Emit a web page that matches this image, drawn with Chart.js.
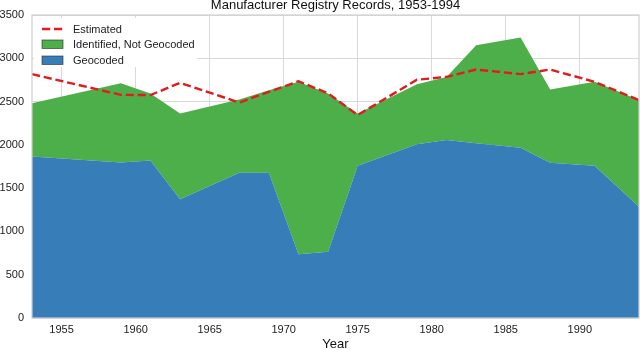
<!DOCTYPE html>
<html><head><meta charset="utf-8">
<script src="https://cdn.jsdelivr.net/npm/chart.js@4.4.1/dist/chart.umd.min.js"></script>
<style>html,body{margin:0;padding:0;background:#fff;}#wrap{width:640px;height:350px;position:relative;}</style>
</head><body><div id="wrap"><canvas id="c"></canvas></div>
<script>
const years = [1953, 1959, 1961, 1963, 1967, 1969, 1971, 1973, 1975, 1979, 1981, 1983, 1986, 1988, 1991, 1994];
const geocoded = [1866, 1797, 1820, 1371, 1679, 1679, 735, 766, 1759, 2006, 2055, 2020, 1967, 1794, 1759, 1285];
const notGeocoded = [614, 916, 773, 991, 846, 951, 1993, 1827, 603, 694, 730, 1132, 1273, 845, 969, 1232];
const estimated = [2817, 2578, 2575, 2717, 2489, 2612, 2735, 2595, 2344, 2752, 2785, 2870, 2817, 2870, 2728, 2517];
const xTickValues = [1955, 1960, 1965, 1970, 1975, 1980, 1985, 1990];
const yTickValues = [0, 500, 1000, 1500, 2000, 2500, 3000, 3500];
const seriesNames = ['Estimated', 'Identified, Not Geocoded', 'Geocoded'];
const titleText = 'Manufacturer Registry Records, 1953-1994';
const xTitle = 'Year';

const FONT = "'Liberation Sans', Arial, Helvetica, sans-serif";
const BLUE = '#377eb8', GREEN = '#4daf4a', RED = '#e41a1c';

const pts = arr => years.map((y, i) => ({x: y, y: arr[i]}));

const legendPlugin = {
  id: 'boxLegend',
  afterDatasetsDraw(chart) {
    const ctx = chart.ctx;
    const ca = chart.chartArea;
    ctx.save();
    ctx.strokeStyle = '#cfcfcf';
    ctx.lineWidth = 1.2;
    ctx.strokeRect(ca.left, ca.top, ca.right - ca.left, ca.bottom - ca.top);
    ctx.fillStyle = '#ffffff';
    ctx.fillRect(ca.left + 2, ca.top + 3, 163, 49);
    ctx.font = '11px ' + FONT;
    ctx.textBaseline = 'middle';
    ctx.fillStyle = '#222';
    const ds = chart.data.datasets;
    const x0 = 42, x1 = 63, tx = 73;
    ctx.strokeStyle = ds[2].borderColor;
    ctx.lineWidth = 2.4;
    ctx.setLineDash([8.2, 3.8]);
    ctx.beginPath(); ctx.moveTo(x0, 29); ctx.lineTo(x1, 29); ctx.stroke();
    ctx.setLineDash([]);
    ctx.fillText(ds[2].label, tx, 29.5);
    ctx.fillStyle = ds[1].backgroundColor;
    ctx.fillRect(x0, 40, x1 - x0, 8.5);
    ctx.strokeStyle = 'rgba(40,40,40,0.75)';
    ctx.lineWidth = 0.8;
    ctx.strokeRect(x0, 40, x1 - x0, 8.5);
    ctx.fillStyle = '#222';
    ctx.fillText(ds[1].label, tx, 44.5);
    ctx.fillStyle = ds[0].backgroundColor;
    ctx.fillRect(x0, 56, x1 - x0, 8.5);
    ctx.strokeRect(x0, 56, x1 - x0, 8.5);
    ctx.fillStyle = '#222';
    ctx.fillText(ds[0].label, tx, 60.5);
    ctx.restore();
  }
};

new Chart(document.getElementById('c'), {
  type: 'line',
  data: {
    datasets: [
      {label: seriesNames[2], data: pts(geocoded), backgroundColor: BLUE, borderColor: BLUE, borderWidth: 0, fill: 'origin', pointRadius: 0, stack: 'rec', order: 1},
      {label: seriesNames[1], data: pts(notGeocoded), backgroundColor: GREEN, borderColor: GREEN, borderWidth: 0, fill: '-1', pointRadius: 0, stack: 'rec', order: 2},
      {label: seriesNames[0], data: pts(estimated), borderColor: RED, backgroundColor: RED, borderWidth: 2.4, borderDash: [8.2, 3.8], fill: false, pointRadius: 0, stack: 'est', order: 0}
    ]
  },
  options: {
    responsive: true,
    maintainAspectRatio: false,
    animation: false,
    layout: {padding: {left: 0, right: 1, top: 0, bottom: 0}},
    elements: {line: {tension: 0}},
    plugins: {
      legend: {display: false},
      tooltip: {enabled: false},
      title: {display: true, text: titleText, fullSize: false, color: '#111',
        font: {family: FONT, size: 13, weight: 'normal', lineHeight: '10px'}, padding: {top: 0, bottom: 5}}
    },
    scales: {
      x: {
        type: 'linear', min: 1953, max: 1994,
        afterBuildTicks: s => { s.ticks = xTickValues.map(v => ({value: v})); },
        afterFit: s => { s.height = 32; },
        grid: {color: '#d9d9d9', lineWidth: 1, drawTicks: false},
        border: {display: false},
        ticks: {padding: 5, color: '#222', font: {family: FONT, size: 11}, callback: v => String(v)},
        title: {display: true, text: xTitle, color: '#111', font: {family: FONT, size: 13, lineHeight: 1}, padding: {top: 0, bottom: -1}}
      },
      y: {
        stacked: true, min: 0, max: 3500,
        afterBuildTicks: s => { s.ticks = yTickValues.map(v => ({value: v})); },
        afterFit: s => { s.width = 32; },
        grid: {color: '#d9d9d9', lineWidth: 1, drawTicks: false},
        border: {display: false},
        ticks: {padding: 8, color: '#222', font: {family: FONT, size: 11}, callback: v => String(v)}
      }
    }
  },
  plugins: [legendPlugin]
});
</script>
</body></html>
